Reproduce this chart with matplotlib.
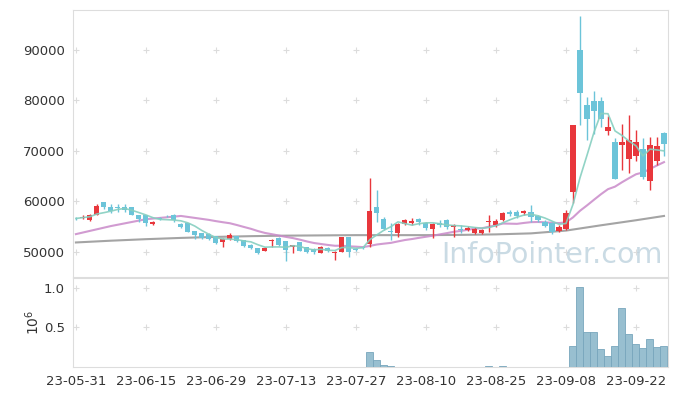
import numpy as np
import pandas as pd
import matplotlib
matplotlib.use('Agg')
import matplotlib.pyplot as plt
from matplotlib.ticker import FuncFormatter

# daily prices (index = trading day)
opens = [56700, 56700, 56200, 57300, 59850, 58850, 58900, 58850, 58850, 57200,
         57300, 55600, 56600, 57100, 57200, 55550, 55750, 54150, 53700, 53500,
         53100, 51850, 52500, 53050, 52300, 51400, 50750, 50250, 52050, 52700,
         52050, 51000, 51900, 50900, 50550, 49850, 50850, 49800, 50050, 52900,
         50600, 51000, 51600, 58850, 56450, 54150, 53700, 55550, 55800, 56400,
         55700, 54550, 55800, 56350, 54900, 54600, 54400, 53800, 53700, 55900,
         55350, 56200, 57800, 57950, 57650, 57950, 57000, 56000, 55800, 54200,
         54600, 61900, 90000, 79100, 79950, 79950, 74000, 71800, 71050, 68350,
         68900, 70450, 64100, 67900, 73500]
closes = [56600, 56950, 57300, 59100, 58800, 58100, 58700, 58200, 57300, 56550,
          55750, 56000, 56500, 57000, 56200, 54950, 54000, 53250, 52650, 52500,
          51650, 52600, 53250, 52050, 51200, 50750, 49750, 50850, 52250, 51250,
          50400, 51250, 50250, 49950, 50050, 51050, 50200, 50050, 52900, 49950,
          50350, 50800, 58100, 57650, 54500, 53850, 55550, 56350, 56150, 55950,
          54700, 55550, 55400, 55000, 55350, 54350, 54800, 54550, 54350, 56100,
          56100, 57650, 57500, 57000, 58100, 56900, 56200, 55200, 54000, 55000,
          57650, 75100, 81500, 76300, 77800, 76300, 74800, 64500, 71800, 72200,
          71650, 64800, 71200, 71000, 71250]
highs = [56900, 57200, 57400, 59400, 59850, 59500, 59500, 59400, 58900, 57200,
         57300, 56100, 56800, 57300, 57400, 55700, 55800, 54200, 53800, 53700,
         53200, 52700, 53700, 53200, 52400, 51500, 50800, 51000, 52450, 52900,
         52200, 51350, 52000, 51000, 50800, 51150, 51000, 50200, 53000, 53000,
         50800, 51200, 64600, 62300, 56800, 55700, 55700, 56500, 56600, 56700,
         56000, 55800, 56200, 56500, 55500, 55300, 55100, 54900, 54500, 57300,
         56400, 57800, 58300, 58300, 58300, 59300, 57300, 56300, 56000, 55300,
         58300, 75100, 96600, 80600, 81900, 80750, 76900, 72600, 75300, 77050,
         74150, 72450, 72800, 72800, 73800]
lows = [56300, 56500, 56100, 57300, 58400, 57700, 57800, 57800, 57200, 55900,
        55100, 55300, 56300, 56900, 56000, 54800, 53900, 52600, 52500, 52400,
        51500, 51050, 52400, 51900, 51000, 50600, 49600, 50100, 51050, 51100,
        48100, 49750, 50100, 49850, 49600, 49700, 50000, 48400, 50000, 49050,
        50100, 50500, 51050, 56000, 54300, 52400, 53000, 55300, 55300, 55300,
        54400, 52700, 54900, 54600, 53000, 53700, 54100, 53600, 53500, 54000,
        55000, 56100, 57000, 56700, 57300, 56000, 56000, 55000, 53550, 54000,
        54300, 59600, 75100, 72200, 73400, 74800, 73200, 64500, 66200, 65600,
        67900, 64400, 62300, 67200, 68900]
volumes = [0, 0, 0, 0, 0, 0, 0, 0, 0, 0,
           0, 0, 0, 0, 0, 0, 0, 0, 0, 0,
           0, 0, 0, 0, 0, 0, 0, 0, 0, 0,
           0, 0, 0, 0, 0, 0, 0, 0, 5000, 0,
           0, 0, 190000, 92000, 30000, 15000, 0, 0, 0, 0,
           0, 0, 0, 0, 0, 0, 0, 0, 0, 8000,
           0, 8000, 0, 0, 0, 0, 0, 0, 0, 0,
           5000, 260000, 1010000, 440000, 440000, 225000, 140000, 260000, 740000, 415000,
           285000, 240000, 350000, 255000, 265000]

ma20_head_idx = [0, 5, 10, 15]
ma20_head = [53500, 55100, 56450, 57100]
ma60_idx = [0, 5, 10, 15, 20, 25, 30, 35, 40, 45, 50, 55, 60, 65, 70, 75, 80, 84]
ma60 = [51850, 52200, 52500, 52750, 52950, 53100, 53200, 53250, 53300, 53300,
        53300, 53350, 53450, 53650, 54200, 55250, 56250, 57100]

tick_idx = [0, 10, 20, 30, 40, 50, 60, 70, 80]
tick_labels = ['23-05-31', '23-06-15', '23-06-29', '23-07-13', '23-07-27',
               '23-08-10', '23-08-25', '23-09-08', '23-09-22']

up_c = '#e8373c'
dn_c = '#6cc4d9'
grid_c = '#dcdcdc'

n = len(closes)
x = np.arange(n)
o = np.array(opens); c = np.array(closes)
h = np.array(highs); l = np.array(lows)
cols = [up_c if cc > oo else dn_c for oo, cc in zip(o, c)]

fig = plt.figure(figsize=(6.77, 3.96), dpi=100)
ax = fig.add_axes([0.108, 0.301, 0.879, 0.674])
axv = fig.add_axes([0.108, 0.073, 0.879, 0.225])

# candles
ax.vlines(x, l, h, colors=cols, linewidth=1.0, zorder=3)
body_lo = np.minimum(o, c)
body_h = np.maximum(np.abs(c - o), 120)
ax.bar(x, body_h, bottom=body_lo, width=0.72, color=cols, linewidth=0, zorder=4)

# moving averages
ma5 = pd.Series(closes).rolling(5, min_periods=1).mean()
ma20_tail = pd.Series(closes).rolling(20).mean()
ma20_x = list(ma20_head_idx) + list(x[19:])
ma20_y = list(ma20_head) + list(ma20_tail[19:])
ax.plot(ma60_idx, ma60, color='#9a9a9a', lw=1.5, alpha=0.9, zorder=2)
ax.plot(ma20_x, ma20_y, color='#c98ac9', lw=1.5, alpha=0.85, zorder=2)
ax.plot(x, ma5, color='#86cfc0', lw=1.2, alpha=0.9, zorder=5)

ax.set_xlim(-0.4, 84.6)
ax.set_ylim(45050, 97900)
yt = [50000, 60000, 70000, 80000, 90000]
ax.set_yticks(yt)
ax.set_yticklabels([str(v) for v in yt])
ax.set_xticks(tick_idx)
ax.set_xticklabels([])
gx, gy = np.meshgrid(tick_idx, yt)
ax.scatter(gx.ravel(), gy.ravel(), marker='+', s=22, color=grid_c, linewidths=0.8, zorder=1)

ax.text(0.805, 0.08, 'InfoPointer.com', transform=ax.transAxes, ha='center', va='center',
        fontsize=20.5, color='#b9cfdc', alpha=0.75, zorder=6)

# volume
axv.bar(x, volumes, width=1.0, color='#98bfd0', edgecolor='#78a6bc', linewidth=0.6, zorder=3)
axv.set_xlim(-0.4, 84.6)
axv.set_ylim(0, 1.12e6)
axv.set_yticks([0.5e6, 1.0e6])
axv.yaxis.set_major_formatter(FuncFormatter(lambda v, p: '%.1f' % (v / 1e6)))
axv.set_xticks(tick_idx)
axv.set_xticklabels(tick_labels)
axv.set_ylabel(r'$10^6$', fontsize=10, color='#333333', labelpad=1)
gx, gy = np.meshgrid(tick_idx, [0.5e6, 1.0e6])
axv.scatter(gx.ravel(), gy.ravel(), marker='+', s=22, color=grid_c, linewidths=0.8, zorder=1)

for a in (ax, axv):
    for s in a.spines.values():
        s.set_color('#dddddd')
        s.set_linewidth(0.8)
    a.tick_params(length=0, labelsize=9.5, colors='#333333', pad=6)

plt.savefig('out.png', dpi=100)
